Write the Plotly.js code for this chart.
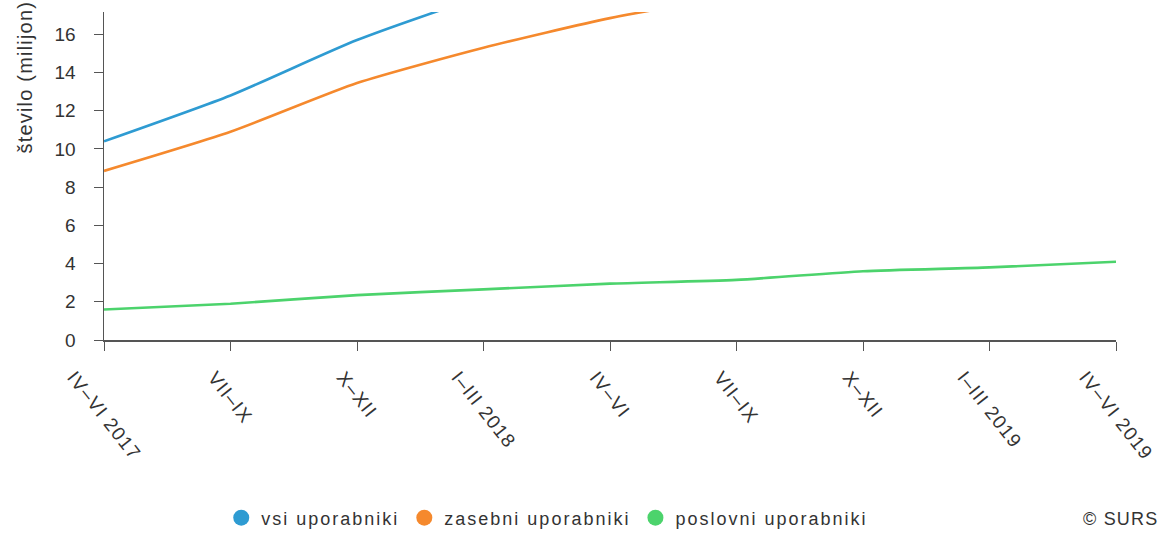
<!DOCTYPE html>
<html>
<head>
<meta charset="utf-8">
<script src="https://cdn.plot.ly/plotly-3.0.1.min.js"></script>
<style>
html,body{margin:0;padding:0;background:#fff;}
#chart{width:1164px;height:533px;}
text.legendtext{letter-spacing:2px;}
text.annotation-text{letter-spacing:1.2px;}
</style>
</head>
<body>
<div id="chart"></div>
<script>
const categories = ["IV–VI 2017","VII–IX","X–XII","I–III 2018","IV–VI","VII–IX","X–XII","I–III 2019","IV–VI 2019"];
const seriesNames = ["vsi uporabniki","zasebni uporabniki","poslovni uporabniki"];
const vsi = [10.4, 12.8, 15.7, 18.0, 19.6, 20.8, 22.1, 23.0, 24.0];
const zasebni = [8.85, 10.9, 13.45, 15.3, 16.85, 18.0, 19.0, 19.8, 20.6];
const poslovni = [1.6, 1.9, 2.35, 2.65, 2.95, 3.15, 3.6, 3.8, 4.1];
const yTicks = [0, 2, 4, 6, 8, 10, 12, 14, 16];
const colors = ["#2e9bd2", "#f5892d", "#4cd36c"];
const yTitle = "število (milijon)";
const source = "© SURS";

const xIdx = categories.map((c, i) => i);
const allSeries = [vsi, zasebni, poslovni];

const traces = [];
allSeries.forEach((s, k) => {
  traces.push({
    x: xIdx, y: s, type: "scatter", mode: "lines",
    line: {color: colors[k], width: 2.6, shape: "spline", smoothing: 0.6},
    showlegend: false, hoverinfo: "skip"
  });
});
allSeries.forEach((s, k) => {
  traces.push({
    x: [null], y: [null], type: "scatter", mode: "markers",
    name: seriesNames[k],
    marker: {color: colors[k], size: 16, symbol: "circle"},
    showlegend: true
  });
});

const fontFam = "Liberation Sans, Arial, sans-serif";
const txtColor = "#333";

const annotations = categories.map((c, i) => ({
  text: c, xref: "x", yref: "paper", x: i, xanchor: "center",
  y: -0.075, yanchor: "top", textangle: 52, showarrow: false,
  font: {size: 19, color: txtColor, family: fontFam}
}));
annotations.push({
  text: yTitle, xref: "paper", yref: "paper", x: -0.078, xanchor: "center",
  y: (340 - 156) / 328, yanchor: "bottom", textangle: -90, showarrow: false,
  font: {size: 20, color: txtColor, family: fontFam}
});
annotations.push({
  text: source, xref: "paper", yref: "paper", x: (1160 - 104) / 1012, xanchor: "right",
  y: (340 - 519) / 328, yanchor: "middle", showarrow: false,
  font: {size: 18, color: txtColor, family: fontFam}
});

const layout = {
  width: 1164, height: 533,
  margin: {l: 104, r: 48, t: 12, b: 193},
  paper_bgcolor: "#fff", plot_bgcolor: "#fff",
  font: {family: fontFam, color: txtColor, size: 19},
  xaxis: {
    range: [0, 8], tickmode: "array", tickvals: xIdx, ticktext: categories,
    showticklabels: false, showgrid: false, zeroline: false,
    showline: true, linecolor: "#555", linewidth: 1.5,
    ticks: "outside", ticklen: 9, tickcolor: "#555", tickwidth: 1
  },
  yaxis: {
    range: [0, 17.17], tickmode: "array", tickvals: yTicks,
    showgrid: false, zeroline: false,
    showline: true, linecolor: "#555", linewidth: 1.5,
    ticks: "outside", ticklen: 9, tickcolor: "#555", tickwidth: 1,
    ticklabelstandoff: 14,
    tickfont: {size: 19, color: txtColor, family: fontFam}
  },
  showlegend: true,
  legend: {
    orientation: "h", xref: "paper", x: 0.438, xanchor: "center",
    yref: "container", y: 1 - 518 / 533, yanchor: "middle",
    font: {size: 18, color: txtColor, family: fontFam},
    itemwidth: 30, bgcolor: "rgba(0,0,0,0)"
  },
  annotations: annotations
};

Plotly.newPlot("chart", traces, layout, {displayModeBar: false, staticPlot: true});
</script>
</body>
</html>
